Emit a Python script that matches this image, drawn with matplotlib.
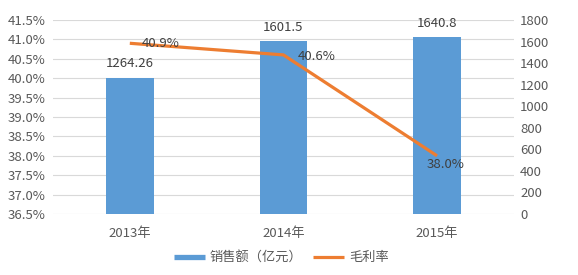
import matplotlib
matplotlib.use("Agg")
import matplotlib.pyplot as plt
from matplotlib.lines import Line2D
import numpy as np

plt.rcParams['font.family'] = ['Noto Sans CJK SC', 'DejaVu Sans']

years = ["2013年", "2014年", "2015年"]
sales = [1264.26, 1601.5, 1640.8]
sales_labels = ["1264.26", "1601.5", "1640.8"]
margin = [40.9, 40.6, 38.0]
margin_labels = ["40.9%", "40.6%", "38.0%"]
left_ticks = [36.5, 37.0, 37.5, 38.0, 38.5, 39.0, 39.5, 40.0, 40.5, 41.0, 41.5]
right_ticks = [0, 200, 400, 600, 800, 1000, 1200, 1400, 1600, 1800]

BLUE = "#5B9BD5"
ORANGE = "#ED7D31"
TXT = "#595959"
GRID = "#D9D9D9"

fig = plt.figure(figsize=(5.78, 2.75), dpi=100)
ax = fig.add_axes([0.0917, 0.2218, 0.7973, 0.7055])
x = np.arange(len(years))

# bars on right axis
ax.bar(x, sales, width=0.31, color=BLUE, zorder=2)
ax.set_ylim(0, 1800)
ax.set_xlim(-0.5, 2.5)
ax.set_xticks(x)
ax.set_xticklabels(years)
for xi, v, lab in zip(x, sales, sales_labels):
    ax.annotate(lab, (xi, v), xytext=(0, 10), textcoords="offset points",
                ha="center", va="center", fontsize=9.5, color="#404040")
for t in left_ticks:
    ax.axhline((t - 36.5) / 5.0 * 1800, color=GRID, lw=0.8, zorder=0)

# line on left axis
ax2 = ax.twinx()
ax2.plot(x, margin, color=ORANGE, lw=2.3, solid_capstyle="butt", zorder=3)
ax2.set_ylim(36.5, 41.5)
ax2.set_yticks(left_ticks)
ax2.set_yticklabels([f"{t:.1f}%" for t in left_ticks])
ax2.yaxis.tick_left()
ax2.tick_params(axis="y", labelleft=True, labelright=False)
offs = [(22, 0), (24, -1.5), (6, -6.5)]
for xi, v, lab, o in zip(x, margin, margin_labels, offs):
    ax2.annotate(lab, (xi, v), xytext=o, textcoords="offset points",
                 ha="center", va="center", fontsize=9.5, color="#404040")

ax.yaxis.tick_right()
ax.set_yticks(right_ticks)
ax.tick_params(axis="y", labelleft=False, labelright=True)

for a in (ax, ax2):
    for s in a.spines.values():
        s.set_visible(False)
    a.tick_params(length=0, labelsize=9.5, colors=TXT)
ax.tick_params(axis="y", pad=4.5)
ax2.tick_params(axis="y", pad=5.5)
ax.tick_params(axis="x", pad=9)
ax.patch.set_visible(False)
ax2.patch.set_visible(False)

handles = [Line2D([0], [0], color=BLUE, lw=3.8, solid_capstyle="butt"),
           Line2D([0], [0], color=ORANGE, lw=2.3, solid_capstyle="butt")]
fig.legend(handles, ["销售额（亿元）", "毛利率"], loc="center",
           bbox_to_anchor=(0.487, 0.062), ncol=2, frameon=False,
           fontsize=9.5, handlelength=2.3, handletextpad=0.4,
           columnspacing=0.8, labelcolor=TXT)

fig.savefig("out.png", dpi=100)
